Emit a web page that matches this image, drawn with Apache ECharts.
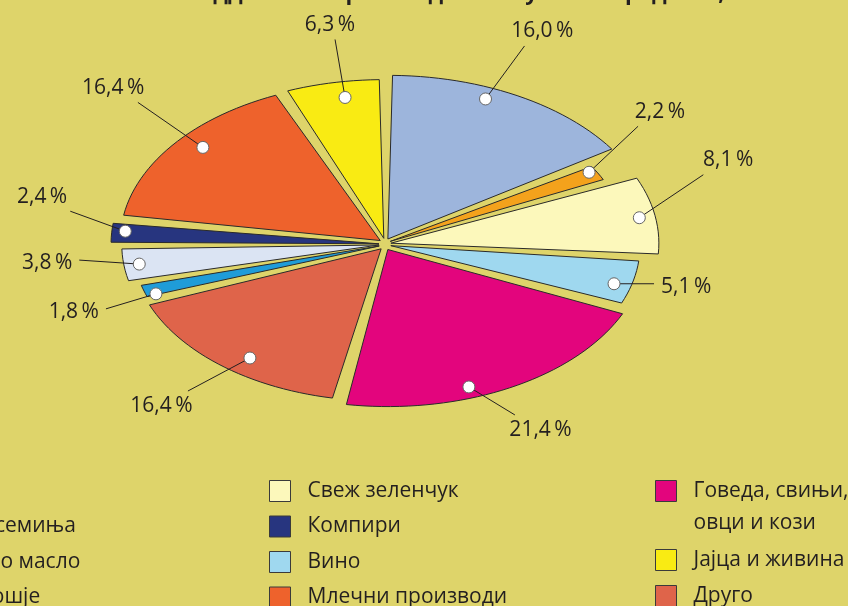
<!DOCTYPE html>
<html>
<head>
<meta charset="utf-8">
<script src="https://cdn.jsdelivr.net/npm/echarts@6/dist/echarts.min.js"></script>
<style>
  html, body { margin: 0; padding: 0; background: #ded46a; }
  #chart { width: 848px; height: 606px; }
</style>
</head>
<body>
<div id="chart"></div>
<script>
// slices, clockwise from 12 o'clock
var categories = ['Тутун', 'Житата и семиња', 'Свеж зеленчук', 'Вино', 'Говеда, свињи,\nовци и кози',
  'Друго', 'Маслиново масло', 'Свежо овошје', 'Компири', 'Млечни производи', 'Јајца и живина'];
var shares = [16.0, 2.2, 8.1, 5.1, 21.4, 16.4, 1.8, 3.8, 2.4, 16.4, 6.3];
var colors = ['#9db5dc', '#f4a21c', '#fcf8bb', '#9fd8ef', '#e3057d', '#df644a',
  '#1f9cd8', '#dbe4f3', '#27357f', '#ee622c', '#f9eb13'];

// legend columns
var legendLeft = ['Тутун', 'Житата и семиња', 'Маслиново масло', 'Свежо овошје'];
var legendMid = ['Свеж зеленчук', 'Компири', 'Вино', 'Млечни производи'];
var legendRight = ['Јајца и живина', 'Друго'];

// drawing layout (not data): outer radius of each slice relative to the ellipse,
// where the white marker sits inside the slice [share of slice angle, share of radius],
// and the leader line from the marker, in px
var radiusScale = [1, 0.88, 1, 0.93, 0.96, 0.93, 0.92, 0.96, 1, 0.97, 0.97];
var markerAt = [[0.40, 0.93], [0.34, 0.97], [0.51, 0.94], [0.59, 0.93], [0.61, 0.93], [0.44, 0.89],
  [0.2, 0.96], [0.49, 0.94], [0.59, 0.95], [0.55, 0.9], [0.58, 0.9]];
var leaders = [[39, -53], [49, -46], [64, -43], [40, 0], [46, 28], [-62, 33],
  [-50, 15], [-60, -4], [-55, -20], [-65, -45], [-10, -58]];

var textColor = '#231f20';
var font = '"Open Sans", "Noto Sans", sans-serif';

var total = shares.reduce(function (s, v) { return s + v; }, 0);
var starts = [];
var acc = 0;
shares.forEach(function (v) {
  starts.push(acc / total * 360);
  acc += v;
});

function rad(d) { return d * Math.PI / 180; }

function fmt(v) {
  return v.toFixed(1).replace('.', ',') + '\u2009%';
}

function renderSlice(params, api) {
  var i = params.seriesIndex;
  var w = api.getWidth(), h = api.getHeight();
  var rx = w * 0.316 * radiusScale[i], ry = h * 0.27 * radiusScale[i];
  var span = api.value(0) / total * 360;
  var a0 = starts[i] + 1, a1 = starts[i] + span - 1;
  var mid = rad(starts[i] + span / 2);
  // exploded centre
  var cx = w * 0.454 + Math.sin(mid) * 6;
  var cy = h * 0.403 - Math.cos(mid) * 6;

  var pts = [[cx, cy]];
  var steps = Math.max(4, Math.ceil((a1 - a0) / 2));
  for (var k = 0; k <= steps; k++) {
    var a = rad(a0 + (a1 - a0) * k / steps);
    pts.push([cx + Math.sin(a) * rx, cy - Math.cos(a) * ry]);
  }

  // marker + leader line + label
  var ma = rad(starts[i] + span * markerAt[i][0]);
  var mx = cx + Math.sin(ma) * rx * markerAt[i][1];
  var my = cy - Math.cos(ma) * ry * markerAt[i][1];
  var ex = mx + leaders[i][0], ey = my + leaders[i][1];
  var len = Math.sqrt(leaders[i][0] * leaders[i][0] + leaders[i][1] * leaders[i][1]);
  var ux = leaders[i][0] / len, uy = leaders[i][1] / len;
  var tx, ty, align, valign;
  if (Math.abs(uy) < 0.3) {
    align = ux > 0 ? 'left' : 'right';
    valign = 'middle';
    tx = ex + (ux > 0 ? 7 : -7);
    ty = ey + 3;
  } else {
    align = 'center';
    valign = uy < 0 ? 'bottom' : 'top';
    tx = ex + ux * 30;
    ty = ey + (uy < 0 ? -4 : 5);
  }

  return {
    type: 'group',
    children: [
      {
        type: 'polygon',
        shape: { points: pts },
        style: { fill: api.visual('color'), stroke: '#2a2a2a', lineWidth: 1, lineJoin: 'miter' }
      },
      {
        type: 'line',
        shape: { x1: mx, y1: my, x2: ex, y2: ey },
        style: { stroke: textColor, lineWidth: 1 },
        z2: 10
      },
      {
        type: 'circle',
        shape: { cx: mx, cy: my, r: 6 },
        style: { fill: '#ffffff', stroke: '#666666', lineWidth: 1 },
        z2: 11
      },
      {
        type: 'text',
        x: tx,
        y: ty,
        style: {
          text: fmt(api.value(0)),
          font: '21px ' + font,
          fill: textColor,
          align: align,
          verticalAlign: valign
        },
        z2: 11
      }
    ]
  };
}

function legendColumn(items, left, top, gap) {
  return {
    data: items,
    orient: 'vertical',
    left: left,
    top: top,
    height: 140,
    padding: 0,
    itemWidth: 21,
    itemHeight: 21,
    itemGap: gap,
    icon: 'rect',
    selectedMode: false,
    itemStyle: { borderColor: '#3a3a3a', borderWidth: 1 },
    textStyle: { fontFamily: font, fontSize: 21, color: textColor, lineHeight: 21, padding: [0, 0, 0, 12] }
  };
}

var chart = echarts.init(document.getElementById('chart'));

var cattle = legendColumn([categories[4]], 655, 443, 0);
cattle.textStyle.lineHeight = 32;
// first line of the two-line name sits level with the swatch
cattle.formatter = function (name) { return '\n' + name; };

var option = {
  backgroundColor: '#ded46a',
  color: colors,
  animation: false,
  title: {
    text: 'Учество на одделните производи во вкупната вредност, 2012',
    left: 'center',
    top: -22,
    textStyle: { fontFamily: font, fontWeight: 'bold', fontSize: 22, color: textColor }
  },
  legend: [
    legendColumn(legendLeft, -142, 480, 13.5),
    legendColumn(legendMid, 269, 480, 13.5),
    cattle,
    legendColumn(legendRight, 655, 549, 14)
  ],
  series: categories.map(function (name, i) {
    return {
      type: 'custom',
      name: name,
      coordinateSystem: 'none',
      silent: true,
      renderItem: renderSlice,
      data: [shares[i]]
    };
  })
};

chart.setOption(option);
</script>
</body>
</html>
